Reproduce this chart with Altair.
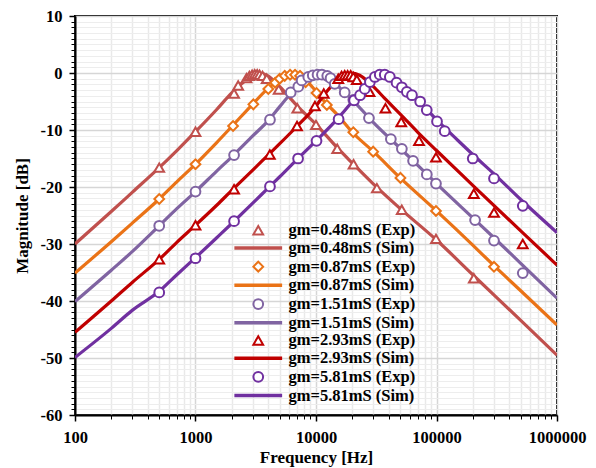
import altair as alt
import pandas as pd

FONT = "Liberation Serif"

# ---------------- data ----------------
series_domain = [
    "gm=0.48mS (Exp)", "gm=0.48mS (Sim)",
    "gm=0.87mS (Exp)", "gm=0.87mS (Sim)",
    "gm=1.51mS (Exp)", "gm=1.51mS (Sim)",
    "gm=2.93mS (Exp)", "gm=2.93mS (Sim)",
    "gm=5.81mS (Exp)", "gm=5.81mS (Sim)",
]
c048, c087, c151, c293, c581 = "#C0504D", "#EA7317", "#8064A2", "#C00000", "#7030A0"
color_range = [c048, c048, c087, c087, c151, c151, c293, c293, c581, c581]
LINE_SYM = "M-4.9,0L4.9,0"
shape_range = ["triangle-up", LINE_SYM, "diamond", LINE_SYM, "circle", LINE_SYM,
               "triangle-up", LINE_SYM, "circle", LINE_SYM]
stroke_range = [2, 3.5, 2, 3.5, 2, 3.5, 2, 3.5, 2, 3.5]

# simulated curves
sim048_f = [100, 200, 300, 500, 700, 1000, 1500, 2000, 2500, 3000, 3400, 4000, 5000, 7000, 10000,
            15000, 20000, 30000, 50000, 100000, 200000, 500000, 1000000]
sim048_db = [-30.0, -24.3, -20.9, -16.6, -13.6, -10.3, -6.4, -3.5, -1.6, -0.5, 0.0, -0.5, -2.4, -5.8,
             -9.0, -13.1, -15.8, -19.5, -23.8, -29.3, -35.4, -43.4, -49.5]

sim087_f = [100, 200, 300, 500, 700, 1000, 1500, 2000, 3000, 4000, 5000, 6400, 7000, 8000, 10000,
            12000, 15000, 20000, 30000, 50000, 100000, 200000, 300000, 500000, 1000000]
sim087_db = [-35.1, -29.6, -26.3, -22.1, -19.1, -16.0, -12.2, -9.4, -5.4, -2.7, -1.1, 0.0, -0.2, -1.0,
             -3.2, -5.2, -7.3, -10.4, -13.8, -18.4, -24.2, -30.2, -33.8, -38.2, -44.2]

sim151_f = [100, 200, 300, 500, 700, 1000, 1500, 2000, 3000, 4000, 5000, 6000, 7000, 8000, 9000,
            10300, 12000, 14000, 17000, 20000, 30000, 50000, 70000, 100000, 200000, 300000, 500000,
            1000000]
sim151_db = [-40.1, -34.6, -31.3, -26.8, -23.8, -20.8, -17.2, -14.7, -11.0, -8.4, -5.9, -3.9, -2.5,
             -1.4, -0.6, 0.0, -0.4, -1.5, -3.3, -4.7, -8.7, -13.2, -16.2, -19.4, -25.4, -28.9,
             -33.4, -39.5]

sim293_f = [100, 200, 300, 500, 700, 1000, 1500, 2000, 3000, 4000, 5000, 7000, 10000, 12000, 15000,
            17000, 19700, 23000, 27000, 30000, 37000, 50000, 70000, 100000, 200000, 500000, 1000000]
sim293_db = [-45.5, -40.0, -36.7, -32.7, -29.7, -26.7, -23.2, -20.6, -17.0, -14.4, -12.4, -9.3, -5.8,
             -3.5, -1.3, -0.5, 0.0, -0.4, -1.5, -2.4, -4.4, -7.2, -10.4, -13.6, -19.7, -27.7, -33.7]

sim581_f = [100, 200, 300, 500, 700, 1000, 1500, 2000, 3000, 4000, 5000, 7000, 10000, 15000, 20000,
            25000, 30000, 35000, 40000, 50000, 60000, 70000, 100000, 150000, 200000, 300000, 500000,
            1000000]
sim581_db = [-49.9, -44.8, -41.6, -38.3, -35.4, -32.4, -28.9, -26.4, -22.8, -20.2, -18.2, -15.1,
             -11.9, -8.1, -5.0, -2.4, -0.8, 0.0, -0.3, -1.9, -3.4, -4.7, -8.2, -11.8, -14.3, -17.7,
             -22.2, -28.0]

# experimental points
exp048_f = [500, 1000, 2090, 2260, 2650, 2800, 2950, 3100, 3250, 3400, 3600, 3900, 4900, 7000,
            10000, 15000, 20500, 32000, 51500, 99000, 204000]
exp048_db = [-16.6, -10.3, -3.6, -2.2, -0.9, -0.5, -0.3, -0.2, -0.2, -0.3, -0.5, -1.0, -2.9, -6.2,
             -9.1, -13.3, -16.0, -20.2, -24.0, -29.1, -36.0]

exp087_f = [500, 1000, 2050, 3020, 4020, 4580, 5000, 5500, 6100, 6700, 7370, 8200, 10100, 12300,
            20400, 29800, 50200, 99000, 300000]
exp087_db = [-22.1, -16.0, -9.3, -5.5, -2.8, -1.7, -1.0, -0.5, -0.3, -0.3, -0.5, -1.6, -3.5, -5.6,
             -10.4, -13.8, -18.4, -24.2, -34.0]

exp151_f = [500, 1000, 2090, 4150, 6170, 7130, 7600, 8630, 9400, 10300, 11200, 12400, 13200, 14300,
            17300, 20400, 27500, 41800, 51600, 63900, 83100, 99000, 209000, 300000, 520000]
exp151_db = [-26.8, -20.8, -14.4, -8.2, -3.4, -2.4, -1.3, -0.7, -0.4, -0.3, -0.3, -0.5, -0.9, -1.9,
             -3.4, -4.7, -7.9, -11.6, -13.3, -15.4, -17.8, -19.4, -25.8, -29.4, -35.1]

exp293_f = [500, 1000, 2090, 4140, 6960, 9800, 11600, 15300, 16300, 17300, 18300, 19400, 20400,
            21800, 27800, 37700, 51000, 71600, 99000, 204000, 300000, 520000]
exp293_db = [-32.7, -26.7, -20.4, -14.3, -9.3, -5.8, -3.6, -1.0, -0.5, -0.4, -0.4, -0.4, -0.7,
             -1.2, -3.3, -6.2, -8.6, -11.9, -14.8, -21.2, -24.5, -30.0]

exp581_f = [500, 1000, 2090, 4150, 7100, 10100, 15400, 20700, 23200, 25400, 28000, 30800, 33800,
            37200, 41000, 46600, 51600, 56700, 62600, 73200, 83000, 101000, 117000, 200000, 300000,
            520000]
exp581_db = [-38.5, -32.5, -26.0, -19.9, -15.0, -11.9, -8.1, -4.8, -3.9, -2.8, -1.6, -0.7, -0.3,
             -0.3, -0.7, -1.7, -2.5, -3.3, -3.9, -5.0, -6.5, -8.5, -10.2, -15.0, -18.5, -23.3]

x_major = [100, 1000, 10000, 100000, 1000000]
y_major = [-60, -50, -40, -30, -20, -10, 0, 10]
x_minor = [m * d for d in [100, 1000, 10000, 100000] for m in range(2, 10)]
y_minor = list(range(-60, 11))

# ---------------- tables ----------------
def table(pairs):
    rows = []
    for name, fs, ds in pairs:
        for f, d in zip(fs, ds):
            rows.append({"series": name, "freq": f, "db": d})
    return pd.DataFrame(rows)

sim_df = table([
    ("gm=0.48mS (Sim)", sim048_f, sim048_db),
    ("gm=0.87mS (Sim)", sim087_f, sim087_db),
    ("gm=1.51mS (Sim)", sim151_f, sim151_db),
    ("gm=2.93mS (Sim)", sim293_f, sim293_db),
    ("gm=5.81mS (Sim)", sim581_f, sim581_db),
])
exp_df = table([
    ("gm=0.48mS (Exp)", exp048_f, exp048_db),
    ("gm=0.87mS (Exp)", exp087_f, exp087_db),
    ("gm=1.51mS (Exp)", exp151_f, exp151_db),
    ("gm=2.93mS (Exp)", exp293_f, exp293_db),
    ("gm=5.81mS (Exp)", exp581_f, exp581_db),
])

x_scale = alt.Scale(type="log", domain=[100, 1000000], nice=False)
y_scale = alt.Scale(domain=[-60, 10], nice=False)
color_scale = alt.Scale(domain=series_domain, range=color_range)

legend = alt.Legend(
    title=None, orient="none", legendX=175, legendY=206, padding=0,
    symbolSize=95, labelOffset=22, rowPadding=0.7,
    labelFont=FONT, labelFontSize=16.5, labelFontWeight="bold", labelColor="black",
    labelLimit=400, symbolFillColor="white",
)

# minor grid + minor ticks
minor = alt.Chart(sim_df).mark_line(opacity=0).encode(
    x=alt.X("freq:Q", scale=x_scale, axis=alt.Axis(
        orient="bottom", values=x_minor, grid=True, gridColor="#E9E9E9", gridWidth=1.5,
        labels=False, ticks=True, tickSize=4, tickColor="black", tickWidth=1,
        domain=False, title=None)),
    y=alt.Y("db:Q", scale=y_scale, axis=alt.Axis(
        orient="left", values=y_minor, grid=True, gridColor="#EDEDED", gridWidth=1,
        labels=False, ticks=True, tickSize=4, tickColor="black", tickWidth=1,
        domain=False, title=None)),
    detail="series:N",
)

lines = alt.Chart(sim_df).mark_line(strokeWidth=3.2, interpolate="monotone", clip=True).encode(
    x=alt.X("freq:Q", scale=x_scale, axis=alt.Axis(
        orient="bottom", values=x_major, labelExpr="'' + datum.value",
        grid=True, gridColor="#D6D6D6", gridWidth=1.5,
        tickSize=6, tickColor="black", tickWidth=1.5,
        domain=True, domainColor="black", domainWidth=2,
        labelFont=FONT, labelFontSize=16.5, labelFontWeight="bold", labelColor="black",
        labelPadding=8, labelFlush=False,
        title="Frequency [Hz]", titleFont=FONT, titleFontSize=17, titleFontWeight="bold",
        titleColor="black", titlePadding=4)),
    y=alt.Y("db:Q", scale=y_scale, axis=alt.Axis(
        orient="left", values=y_major, labelExpr="'' + datum.value",
        grid=True, gridColor="#D6D6D6", gridWidth=1.5,
        tickSize=6, tickColor="black", tickWidth=1.5,
        domain=True, domainColor="black", domainWidth=2,
        labelFont=FONT, labelFontSize=16.5, labelFontWeight="bold", labelColor="black",
        labelPadding=7, labelFlush=False,
        title="Magnitude [dB]", titleFont=FONT, titleFontSize=17, titleFontWeight="bold",
        titleColor="black", titlePadding=9)),
    color=alt.Color("series:N", scale=color_scale, legend=legend),
    detail="series:N",
)

points = alt.Chart(exp_df).mark_point(size=95, filled=False, fill="white", fillOpacity=1,
                                      opacity=1, clip=True).encode(
    x=alt.X("freq:Q", scale=x_scale, axis=None),
    y=alt.Y("db:Q", scale=y_scale, axis=None),
    color=alt.Color("series:N", scale=color_scale, legend=legend),
    shape=alt.Shape("series:N", scale=alt.Scale(domain=series_domain, range=shape_range),
                    legend=legend),
    strokeWidth=alt.StrokeWidth("series:N", scale=alt.Scale(type="ordinal", domain=series_domain,
                                                           range=stroke_range), legend=legend),
)

chart = alt.layer(minor, lines, points).resolve_axis(
    x="independent", y="independent"
).properties(
    width=482, height=399,
    autosize=alt.AutoSizeParams(type="none"),
    padding={"left": 75, "top": 16, "right": 39, "bottom": 53},
    background="white",
).configure_view(stroke="black", strokeWidth=2)

chart.save("out.html", embed_options={"renderer": "svg", "actions": False})
